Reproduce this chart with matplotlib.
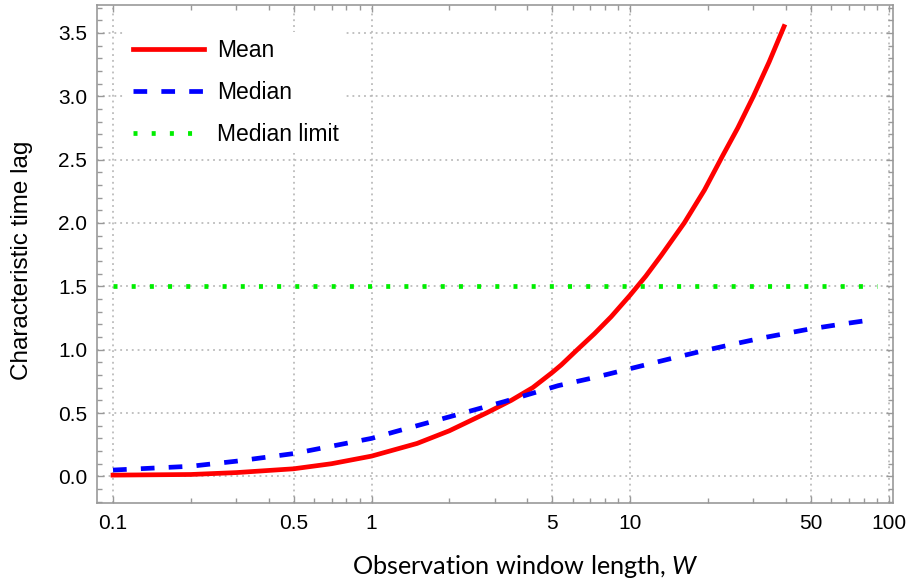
import matplotlib
matplotlib.use("Agg")
import matplotlib.pyplot as plt
from matplotlib.ticker import FixedLocator, FixedFormatter, NullFormatter

# values
w_mean = [0.1, 0.2, 0.3, 0.5, 0.7, 1, 1.5, 2, 2.78, 3.47, 4.2, 5, 5.42, 6.25, 7.28, 8.45, 10, 11.5,
          13.2, 16.2, 19.4, 22.8, 26.1, 30, 34.5, 39.4]
mean = [0.01, 0.015, 0.03, 0.06, 0.10, 0.16, 0.26, 0.36, 0.50, 0.60, 0.70, 0.82, 0.88, 1.0, 1.126,
        1.26, 1.43, 1.58, 1.744, 2.0, 2.26, 2.53, 2.75, 3.0, 3.27, 3.55]

w_median = [0.1, 0.2, 0.3, 0.5, 1, 1.22, 2, 3.26, 5.27, 7.28, 10, 14.4, 18.2, 24.6, 32.9, 41.8, 48.6, 65, 89]
median = [0.05, 0.08, 0.12, 0.18, 0.30, 0.35, 0.47, 0.59, 0.716, 0.78, 0.85, 0.93, 0.98, 1.04, 1.095,
          1.135, 1.16, 1.20, 1.24]

w_limit = [0.1, 90]
median_limit = [1.5, 1.5]

x_ticks = [0.1, 0.5, 1, 5, 10, 50, 100]
x_labels = ["0.1", "0.5", "1", "5", "10", "50", "100"]
y_ticks = [0.0, 0.5, 1.0, 1.5, 2.0, 2.5, 3.0, 3.5]

plt.rcParams["font.family"] = ["Liberation Sans", "DejaVu Sans"]
plt.rcParams["mathtext.fontset"] = "custom"
plt.rcParams["mathtext.it"] = "Lato:italic"
plt.rcParams["mathtext.rm"] = "Lato"

fig = plt.figure(figsize=(9.08, 5.84), dpi=100)
ax = fig.add_axes([97 / 908, 81 / 584, 796 / 908, 498 / 584])

ax.plot(w_mean, mean, color="#ff0000", lw=3.4, label="Mean", zorder=3)
ax.plot(w_median, median, color="#0000ff", lw=3.4, dashes=(2.9, 3.0), label="Median", zorder=3)
ax.plot(w_limit, median_limit, color="#00ee00", lw=3.4, dashes=(0.85, 3.0), label="Median limit", zorder=3)

ax.set_xscale("log")
ax.set_xlim(0.0867, 104)
ax.set_ylim(-0.21, 3.72)

ax.xaxis.set_major_locator(FixedLocator(x_ticks))
ax.xaxis.set_major_formatter(FixedFormatter(x_labels))
minors = [m * d for d in (0.1, 1, 10) for m in (2, 3, 4, 6, 7, 8, 9)]
ax.xaxis.set_minor_locator(FixedLocator(minors))
ax.xaxis.set_minor_formatter(NullFormatter())
ax.yaxis.set_major_locator(FixedLocator(y_ticks))
ax.set_yticklabels([f"{v:.1f}" for v in y_ticks])
ax.yaxis.set_minor_locator(FixedLocator([i / 10 for i in range(-2, 38) if i % 5]))

ax.tick_params(which="both", direction="in", top=True, right=True, color="#999999", width=1,
               labelsize=15, labelcolor="black")
ax.tick_params(which="major", length=5)
ax.tick_params(which="minor", length=3.5)
ax.tick_params(axis="y", pad=7)
ax.tick_params(axis="x", pad=8)
for s in ax.spines.values():
    s.set_color("#999999")
    s.set_linewidth(1.2)

ax.grid(True, which="major", color="#b0b0b0", lw=1.1, linestyle=(0, (1.2, 2.6)))

ax.set_xlabel("Observation window length, $W$", fontsize=18.2, family=["Lato", "DejaVu Sans"])
ax.xaxis.label.set_verticalalignment("center")
ax.xaxis.set_label_coords(0.538, -0.1285)
ax.set_ylabel("Characteristic time lag", fontsize=17.5)
ax.yaxis.label.set_verticalalignment("center")
ax.yaxis.set_label_coords(-0.0942, 0.488)

leg = ax.legend(loc="upper left", bbox_to_anchor=(0.0364, 0.946), borderaxespad=0, fontsize=16.5,
                frameon=True, facecolor="white", edgecolor="none", framealpha=1, fancybox=False,
                handlelength=3.1, handletextpad=0.57, labelspacing=0.84, borderpad=0.3)
leg.set_zorder(5)

fig.savefig("out.png", dpi=100)
